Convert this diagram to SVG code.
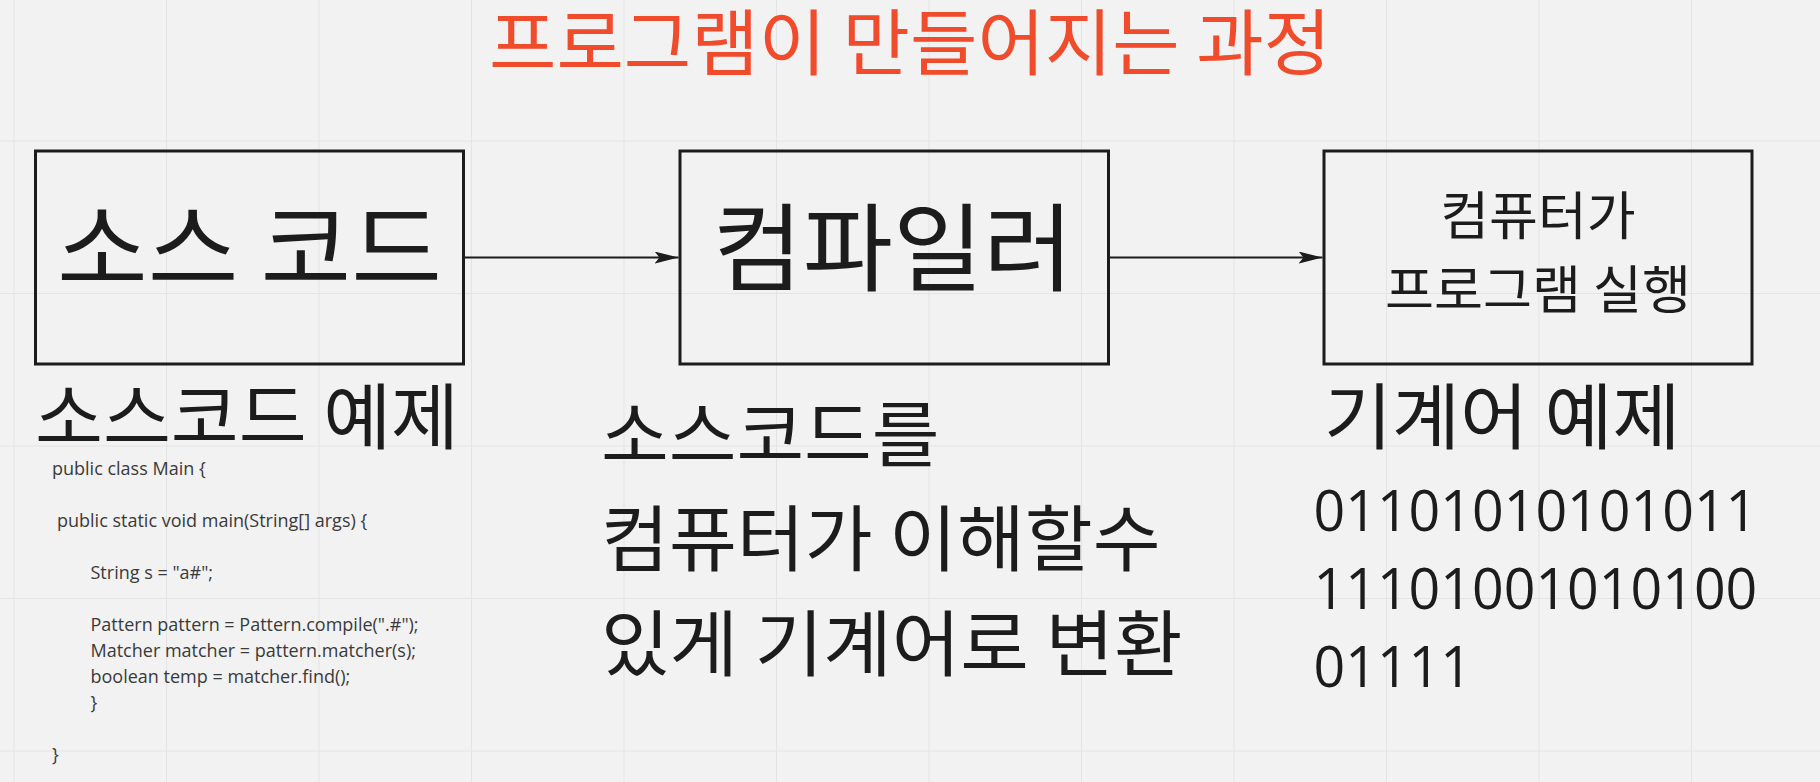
<svg xmlns="http://www.w3.org/2000/svg" width="1820" height="782" viewBox="0 0 1820 782">
<style>
.grid line{stroke:#e4e4e4;stroke-width:1}
.box{fill:none;stroke:#1c1c1c;stroke-width:3}
.kr{font-family:"Noto Sans CJK KR","Noto Sans CJK SC",sans-serif;fill:#1c1c1c}
.title{font-family:"Noto Sans CJK KR","Noto Sans CJK SC",sans-serif;fill:#f04b2b;font-size:72px}
.code{font-family:"Open Sans","Liberation Sans",sans-serif;font-size:18px;fill:#3a3a3a}
.bin{font-family:"Open Sans","Liberation Sans",sans-serif;font-size:56px;fill:#1c1c1c}
.conn{stroke:#1c1c1c;stroke-width:2;fill:none}
</style>
<defs>
<marker id="arrow" markerUnits="userSpaceOnUse" markerWidth="26" markerHeight="14" refX="24" refY="6" orient="auto">
<path d="M0,0 L24,6 L0,12 L5,6 Z" fill="#1c1c1c"/>
</marker>
</defs>
<rect x="0" y="0" width="1820" height="782" fill="#f2f2f2"/>
<g class="grid">
<line x1="14" y1="0" x2="14" y2="782"/>
<line x1="166.5" y1="0" x2="166.5" y2="782"/>
<line x1="319" y1="0" x2="319" y2="782"/>
<line x1="471.5" y1="0" x2="471.5" y2="782"/>
<line x1="624" y1="0" x2="624" y2="782"/>
<line x1="776.5" y1="0" x2="776.5" y2="782"/>
<line x1="929" y1="0" x2="929" y2="782"/>
<line x1="1081.5" y1="0" x2="1081.5" y2="782"/>
<line x1="1234" y1="0" x2="1234" y2="782"/>
<line x1="1386.5" y1="0" x2="1386.5" y2="782"/>
<line x1="1539" y1="0" x2="1539" y2="782"/>
<line x1="1691.5" y1="0" x2="1691.5" y2="782"/>
<line x1="0" y1="141" x2="1820" y2="141"/>
<line x1="0" y1="293.5" x2="1820" y2="293.5"/>
<line x1="0" y1="446" x2="1820" y2="446"/>
<line x1="0" y1="598.5" x2="1820" y2="598.5"/>
<line x1="0" y1="751" x2="1820" y2="751"/>
</g>
<g id="title">
<text class="title" x="489" y="69" textLength="842" lengthAdjust="spacingAndGlyphs">프로그램이 만들어지는 과정</text>
</g>
<g id="node-source">
<rect class="box" x="35.5" y="151" width="428" height="213"/>
<text class="kr" x="249.5" y="283" font-size="96" text-anchor="middle" textLength="385" lengthAdjust="spacingAndGlyphs">소스 코드</text>
</g>
<g id="node-compiler">
<rect class="box" x="680" y="151" width="428.5" height="213"/>
<text class="kr" x="893" y="283" font-size="96" text-anchor="middle" textLength="361" lengthAdjust="spacingAndGlyphs">컴파일러</text>
</g>
<g id="node-run">
<rect class="box" x="1324" y="151" width="428" height="213"/>
<text class="kr" x="1538" y="235" font-size="52" text-anchor="middle" textLength="195.5" lengthAdjust="spacingAndGlyphs">컴퓨터가</text>
<text class="kr" x="1538" y="309" font-size="52" text-anchor="middle" textLength="306" lengthAdjust="spacingAndGlyphs">프로그램 실행</text>
</g>
<g id="connectors">
<line class="conn" x1="465" y1="257.5" x2="678.5" y2="257.5" marker-end="url(#arrow)"/>
<line class="conn" x1="1110" y1="257.5" x2="1322.5" y2="257.5" marker-end="url(#arrow)"/>
</g>
<g id="source-example">
<text class="kr" x="35" y="443" font-size="72" textLength="424" lengthAdjust="spacingAndGlyphs">소스코드 예제</text>
<text class="code" x="52" y="475">public class Main {</text>
<text class="code" x="57" y="527">public static void main(String[] args) {</text>
<text class="code" x="90.5" y="579">String s = "a#";</text>
<text class="code" x="90.5" y="631">Pattern pattern = Pattern.compile(".#");</text>
<text class="code" x="90.5" y="657">Matcher matcher = pattern.matcher(s);</text>
<text class="code" x="90.5" y="683">boolean temp = matcher.find();</text>
<text class="code" x="90.5" y="709">}</text>
<text class="code" x="52" y="761">}</text>
</g>
<g id="compile-desc">
<text class="kr" x="601" y="461" font-size="72" textLength="338.5" lengthAdjust="spacingAndGlyphs">소스코드를</text>
<text class="kr" x="601" y="565" font-size="72" textLength="559.6" lengthAdjust="spacingAndGlyphs">컴퓨터가 이해할수</text>
<text class="kr" x="601" y="670" font-size="72" textLength="581.6" lengthAdjust="spacingAndGlyphs">있게 기계어로 변환</text>
</g>
<g id="machine-example">
<text class="kr" x="1324" y="443" font-size="72" textLength="356.5" lengthAdjust="spacingAndGlyphs">기계어 예제</text>
<text class="bin" x="1313.5" y="531" textLength="443.8" lengthAdjust="spacingAndGlyphs">01101010101011</text>
<text class="bin" x="1313.5" y="608.5" textLength="443.8" lengthAdjust="spacingAndGlyphs">11101001010100</text>
<text class="bin" x="1313.5" y="687" textLength="158.5" lengthAdjust="spacingAndGlyphs">01111</text>
</g>
</svg>
